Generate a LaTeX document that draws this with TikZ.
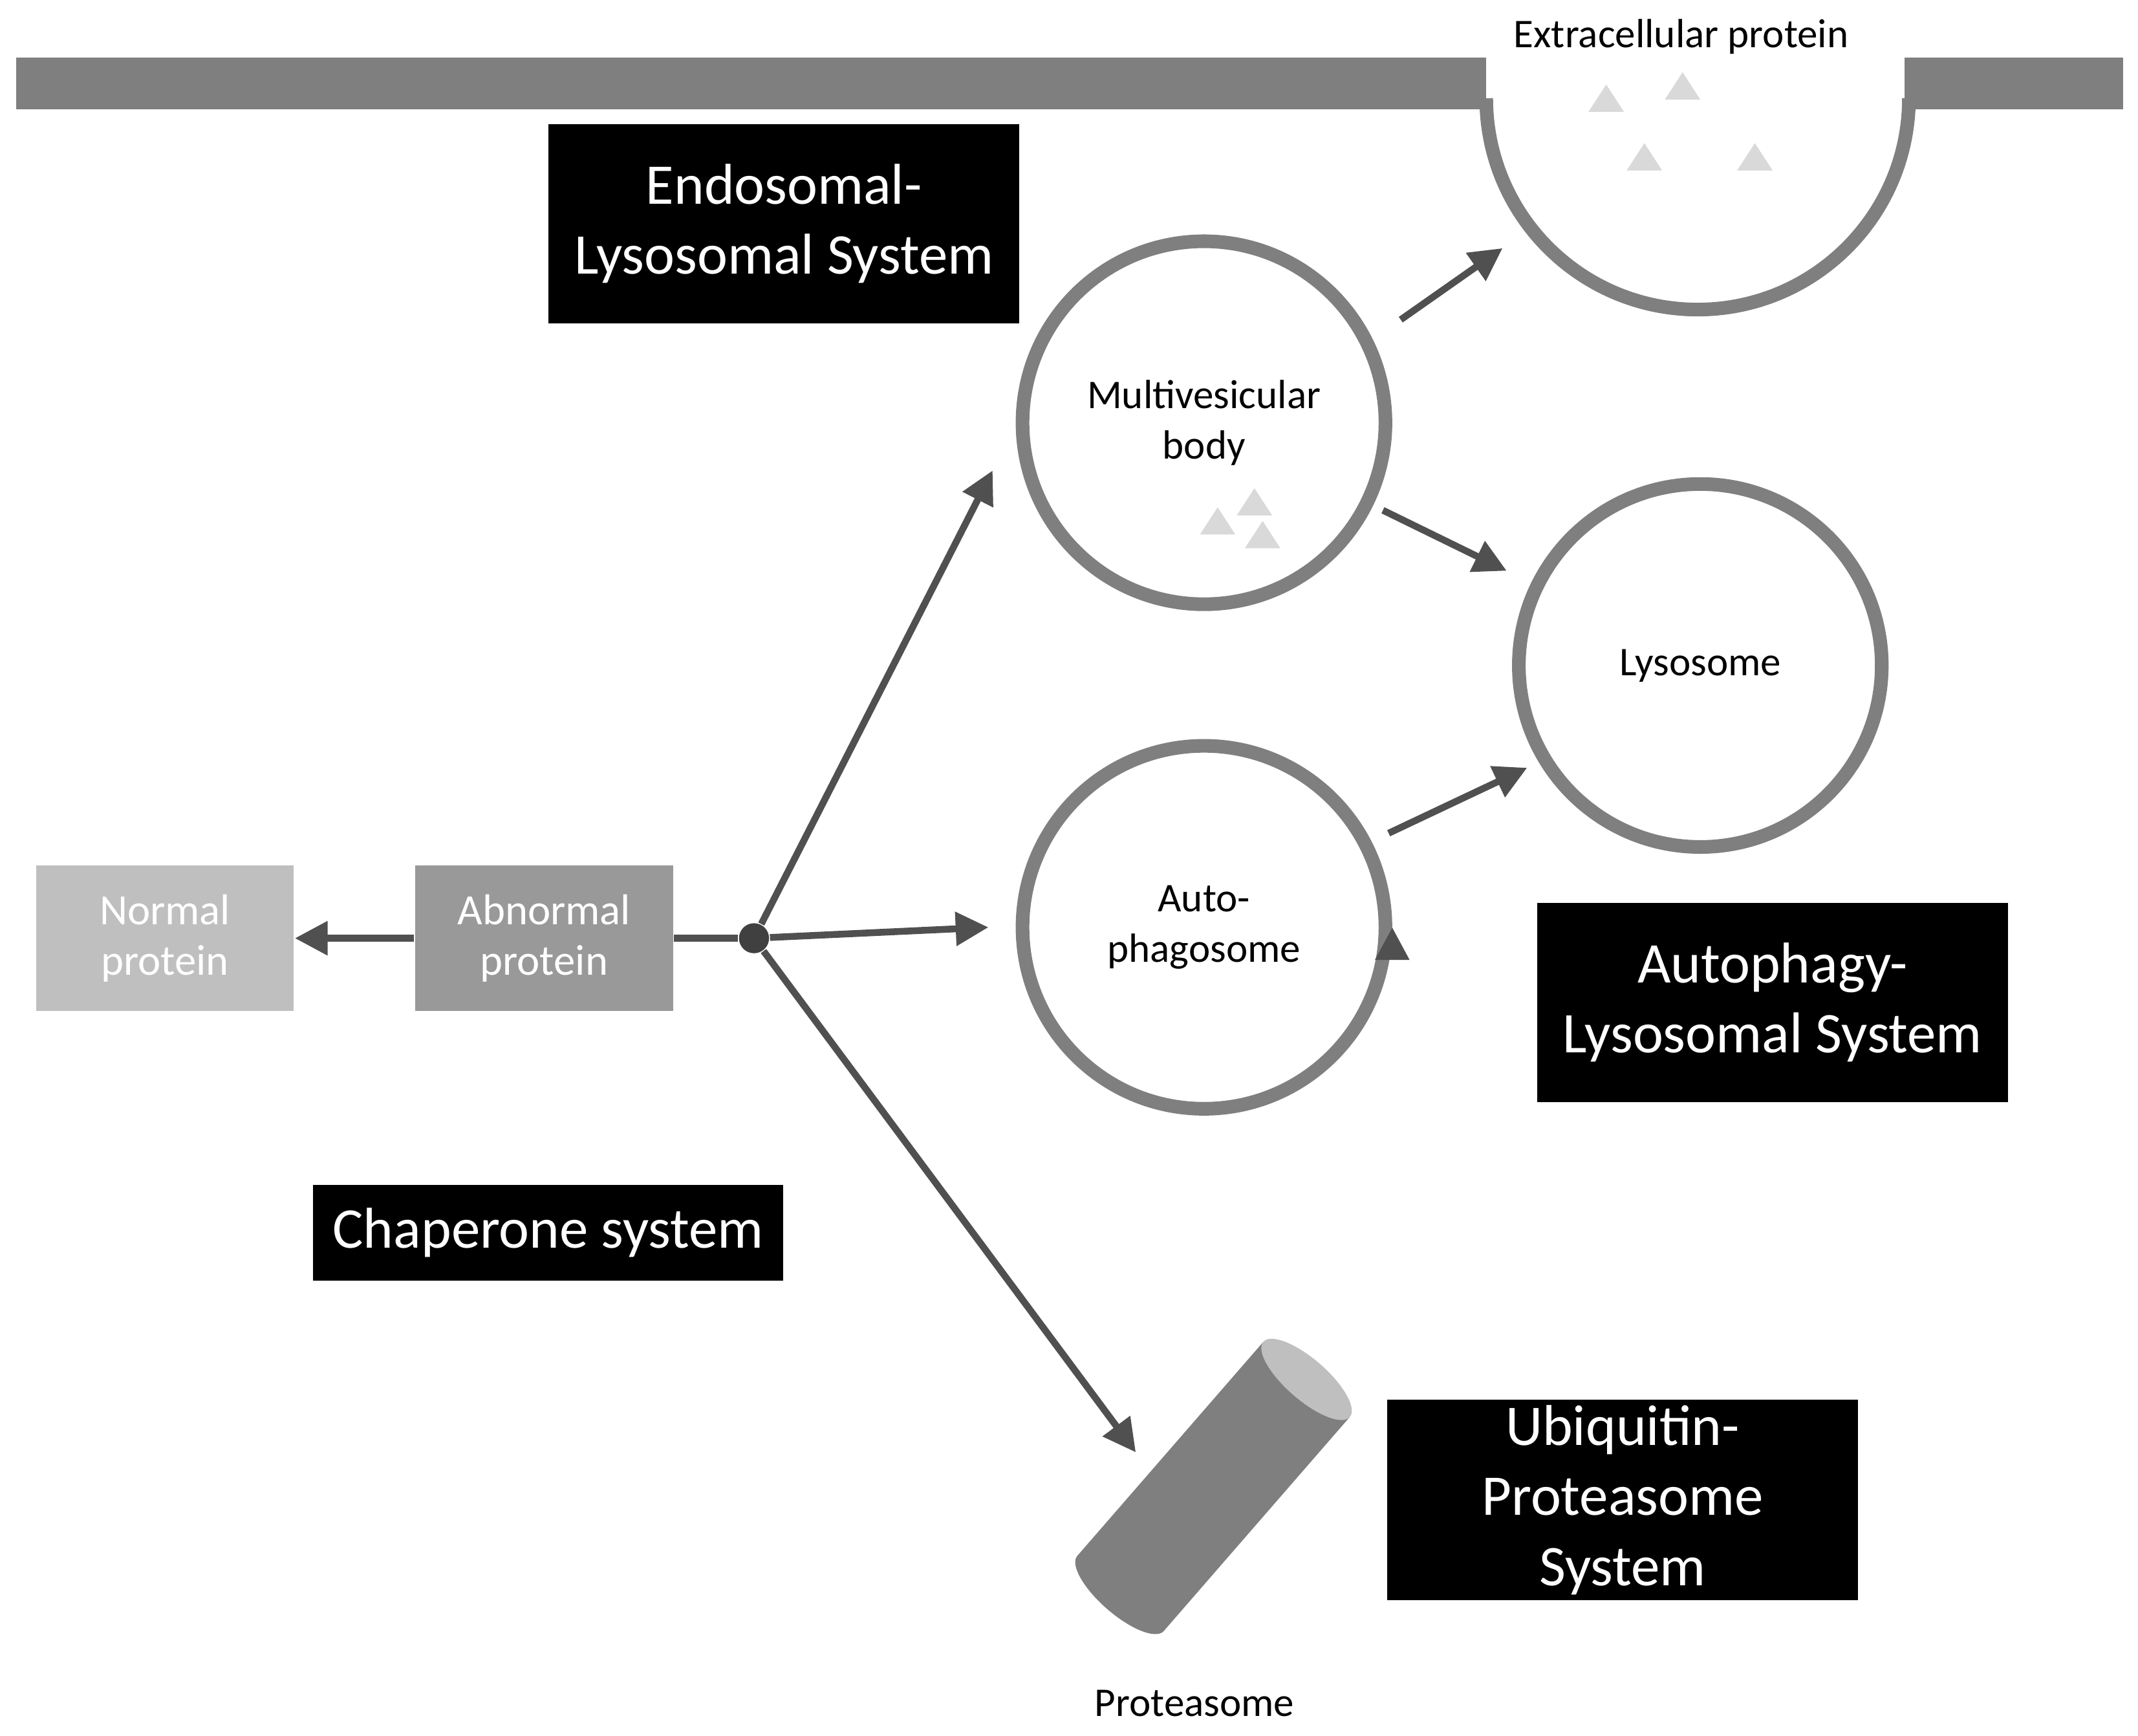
\documentclass[tikz,border=0pt]{standalone}
\usepackage{fontspec}
\setmainfont{Carlito}
\usetikzlibrary{arrows.meta,positioning}
\definecolor{ringgray}{HTML}{7F7F7F}
\definecolor{arrowgray}{HTML}{505050}
\definecolor{trigray}{HTML}{D9D9D9}
\tikzset{
  vesicle/.style={circle,draw=ringgray,line width=0.1cm,minimum size=2.66cm,
                  align=center,font=\fontsize{8.5}{10.5}\selectfont},
  sysbox/.style={fill=black,text=white,align=center,inner sep=0pt,
                 font=\fontsize{12}{14.6}\selectfont},
  protbox/.style={text=white,align=center,minimum width=1.89cm,minimum height=1.07cm,
                  inner sep=0pt,font=\fontsize{9}{10.5}\selectfont},
  arr/.style={arrowgray,line width=0.05cm,-{Triangle[length=0.24cm,width=0.24cm]}},
  tri/.style={fill=trigray,regular polygon sides=3},
  plain/.style={font=\fontsize{8.5}{10.5}\selectfont}
}
\newcommand{\protri}[2]{\fill[trigray] (#1-13,#2+10) -- (#1+13,#2+10) -- (#1,#2-10) -- cycle;}
\begin{document}
\begin{tikzpicture}[x=0.01cm,y=-0.01cm]
  \useasboundingbox (0,0) rectangle (1568,1273);

  % membrane with budding vesicle
  \fill[ringgray] (12,42) rectangle (1090,80);
  \fill[ringgray] (1397,42) rectangle (1557,80);
  \draw[ringgray,line width=0.1cm] (1090,72) arc[start angle=180,end angle=0,radius=155];
  \node[plain] (extra) at (1233,27) {Extracellular protein};
  \protri{1178}{72}\protri{1234}{63}\protri{1206}{115}\protri{1287}{115}
  \coordinate (ecvtip) at (1102,182);

  % system labels
  \node[sysbox,minimum width=3.45cm,minimum height=1.46cm] (els) at (575,164) {Endosomal-\\Lysosomal System};
  \node[sysbox,minimum width=3.45cm,minimum height=1.46cm] (als) at (1300,735) {Autophagy-\\Lysosomal System};
  \node[sysbox,minimum width=3.45cm,minimum height=0.70cm] (chap) at (402,904) {Chaperone system};
  \node[sysbox,minimum width=3.45cm,minimum height=1.47cm] (ups) at (1190,1100) {Ubiquitin-\\Proteasome\\System};

  % vesicles
  \node[vesicle] (mvb) at (883,310) {Multivesicular\\body};
  \protri{893}{382}\protri{920}{368}\protri{926}{392}
  \node[vesicle] (lyso) at (1247,488) {Lysosome};
  \node[vesicle] (auto) at (883,680) {Auto-\\phagosome};

  % proteins
  \node[protbox,fill=black!25] (normal) at (121,688) {Normal\\protein};
  \node[protbox,fill=black!40] (abnormal) at (399,688) {Abnormal\\protein};
  \node[circle,fill=black!75,minimum size=0.22cm,inner sep=0pt] (hub) at (553,688) {};

  % proteasome
  \begin{scope}[shift={(890,1090)},rotate=49]
    \fill[ringgray] (-104,-42) rectangle (104,42);
    \fill[ringgray] (-104,0) ellipse[x radius=15,y radius=42];
    \fill[black!25] (104,0) ellipse[x radius=15,y radius=42];
  \end{scope}
  \node[plain] (prot) at (876,1249) {Proteasome};
  \coordinate (mvbtip) at (728,345);
  \coordinate (prottip) at (833,1065);

  % pathways
  \draw[arr] (abnormal) -- (normal);
  \draw[arrowgray,line width=0.05cm] (abnormal) -- (hub);
  \draw[arr] (hub) -- ([xshift=-0.2cm]auto.west);
  \draw[arr] (hub) -- (mvbtip);
  \draw[arr] (hub) -- (prottip);
  \draw[arr,shorten <=0.13cm] (mvb) ++(-27:150) -- (ecvtip);
  \draw[arr,shorten <=0.08cm,shorten >=0.2cm] (mvb) -- (lyso);
  \draw[arr] ([shift={(0,-0.05)}]auto.east) ++(0,0) ;
  \draw[arr] (auto) ++(-27:152) coordinate (autostart) -- (1120,563);
\end{tikzpicture}
\end{document}
